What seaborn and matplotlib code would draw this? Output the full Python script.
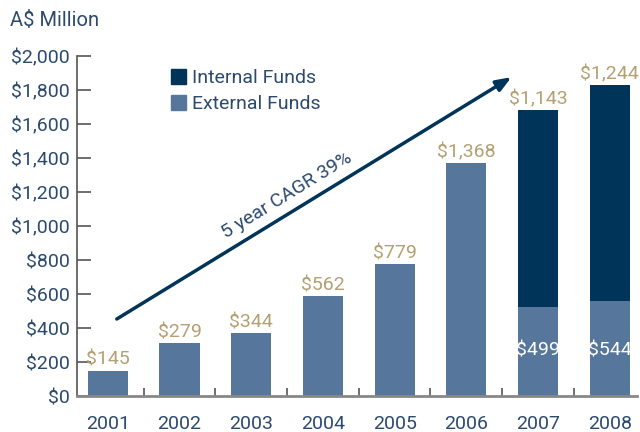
import matplotlib
matplotlib.use('Agg')
import matplotlib.pyplot as plt
import seaborn as sns
from matplotlib.patches import Patch

# Dados
years = ['2001', '2002', '2003', '2004', '2005', '2006', '2007', '2008']
external = [149, 313, 372, 590, 776, 1372, 525, 559]
internal = [0, 0, 0, 0, 0, 0, 1157, 1270]
top_labels = ['$145', '$279', '$344', '$562', '$779', '$1,368', '$1,143', '$1,244']
inner_labels = ['', '', '', '', '', '', '$499', '$544']
yticks = [0, 200, 400, 600, 800, 1000, 1200, 1400, 1600, 1800, 2000]

c_ext = '#56779b'
c_int = '#003459'
c_gold = '#b3a073'
c_text = '#2c4a6e'
c_axis = '#555555'
fs = 14

sns.set_style('white')
plt.rcParams['font.family'] = ['Roboto', 'DejaVu Sans']

totals = [e + i for e, i in zip(external, internal)]

fig = plt.figure(figsize=(6.4, 4.32), dpi=100)
ax = fig.add_axes([0.1203, 0.0833, 0.875, 0.7870])

# barras empilhadas: total (interno) por baixo, externo por cima
sns.barplot(x=years, y=totals, color=c_int, width=0.56, saturation=1,
            linewidth=0, ax=ax)
sns.barplot(x=years, y=external, color=c_ext, width=0.56, saturation=1,
            linewidth=0, ax=ax)

for i, (t, lab) in enumerate(zip(totals, top_labels)):
    ax.text(i, t + 10, lab, ha='center', va='bottom', color=c_gold, fontsize=fs)
for i, lab in enumerate(inner_labels):
    if lab:
        ax.text(i, 270, lab, ha='center', va='center', color='white', fontsize=fs)

ax.set_xlim(-0.43, 7.38)
ax.set_ylim(0, 2000)
ax.set_yticks(yticks)
ax.set_yticklabels(['${:,}'.format(v) for v in yticks])
ax.set_xticks(range(len(years)))
ax.set_xticklabels(years)
ax.tick_params(axis='y', direction='in', length=10, width=1.2, color=c_axis,
               labelsize=fs, labelcolor=c_text, pad=5, left=True)
ax.tick_params(axis='x', length=0, labelsize=fs, labelcolor=c_text, pad=14)
ax.set_xticks([k + 0.5 for k in range(len(years) - 1)], minor=True)
ax.tick_params(axis='x', which='minor', direction='in', length=6, width=1.2,
               color=c_axis, bottom=True)
ax.set_xlabel('')
ax.set_ylabel('')

for s in ['top', 'right']:
    ax.spines[s].set_visible(False)
ax.spines['left'].set_color(c_axis)
ax.spines['left'].set_linewidth(1.2)
ax.spines['bottom'].set_color('#888888')
ax.spines['bottom'].set_linewidth(2)

# seta CAGR
ax.annotate('', xy=(5.63, 1876), xytext=(0.125, 453),
            arrowprops=dict(arrowstyle='-|>,head_length=0.9,head_width=0.35',
                            color=c_int, lw=2.5, shrinkA=0, shrinkB=0))
ax.text(2.5, 1180, '5 year CAGR 39%', rotation=31.5, rotation_mode='anchor',
        ha='center', va='center', color=c_text, fontsize=fs)

handles = [Patch(color=c_int, label='Internal Funds'),
           Patch(color=c_ext, label='External Funds')]
ax.legend(handles=handles, loc='upper left', bbox_to_anchor=(0.151, 0.99),
          frameon=False, fontsize=14, handlelength=0.75, handleheight=0.8,
          handletextpad=0.3, labelspacing=0.38, borderpad=0, labelcolor=c_text)

fig.text(10 / 640, 1 - 21 / 432, 'A$ Million', ha='left', va='center',
         color=c_text, fontsize=14.5)

fig.savefig('out.png', dpi=100)
